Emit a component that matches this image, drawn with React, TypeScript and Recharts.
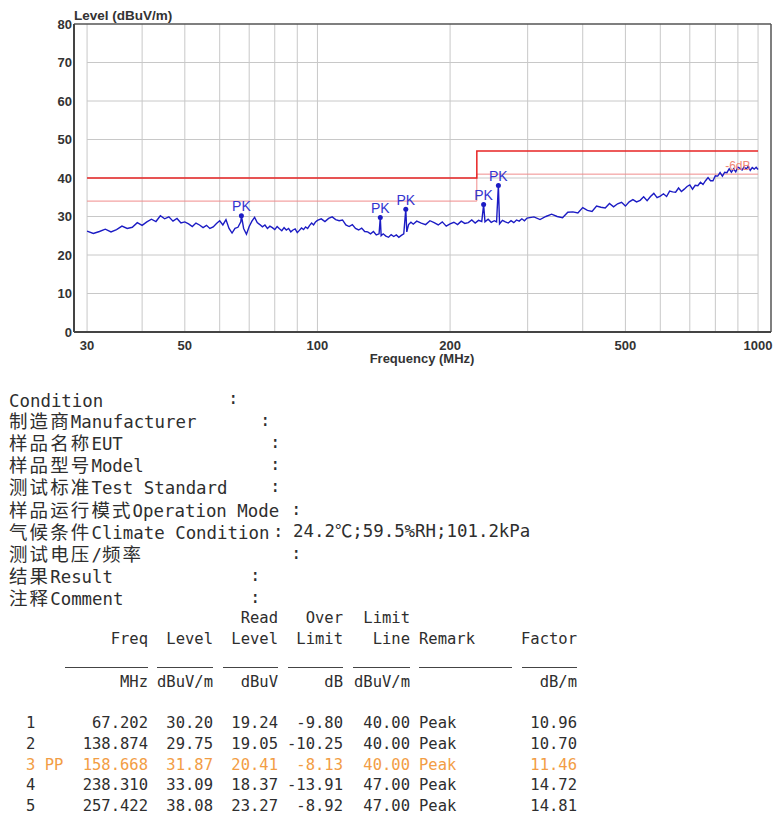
import { ComposedChart, Line, XAxis, YAxis, ReferenceLine, ReferenceDot } from "recharts";

// log axis edges: frame runs a little past 30 and 1000 MHz
const X_MIN = 28.02;
const X_MAX = 1070;

const GRID_FREQS = [30, 40, 50, 60, 70, 80, 90, 100, 200, 300, 400, 500, 600, 700, 800, 900, 1000];
const LABEL_FREQS = [30, 50, 100, 200, 500, 1000];
const LEVEL_TICKS = [0, 10, 20, 30, 40, 50, 60, 70, 80];
const H_GRID = [10, 20, 30, 40, 50, 60, 70];

const TRACE_FREQ = [
  30, 31, 32, 33, 34, 35, 36, 37, 38, 39, 40, 41, 42, 43, 44, 45, 46, 47, 48, 49,
  50, 51, 52, 53, 54, 55, 56, 57, 58, 59, 60, 61, 62, 63, 64, 65, 66, 67, 67.202, 68,
  69, 70, 71, 72, 73, 74, 75, 76, 77, 78, 79, 80, 81, 82, 83, 84, 85, 86, 87, 88,
  89, 90, 91, 92, 93, 94, 95, 96, 97, 98, 99, 100,
  102, 104, 106, 108, 110, 112, 114, 116, 118, 120, 122, 124, 126, 128, 130, 132, 134, 136, 138, 138.874,
  139.5, 141, 143, 145, 147, 149, 151, 153, 155, 157, 158.668, 159.5, 161, 163, 165, 168, 172, 176, 180, 184,
  188, 192, 196, 200, 204, 208, 212, 216, 220, 224, 228, 232, 236, 238.31, 240, 244, 248, 252, 255, 257.422,
  259, 263, 267, 271, 275, 279, 283, 287, 291, 295, 299,
  310, 320, 330, 340, 350, 360, 370, 380, 390, 400, 410, 420, 430, 440, 450, 460, 470, 480, 490, 500,
  510, 520, 530, 540, 550, 560, 570, 580, 590, 600, 610, 620, 630, 640, 650, 660, 670, 680, 690, 700,
  710, 720, 730, 740, 750, 760, 770, 780, 790, 800, 810, 820, 830, 840, 850, 860, 870, 880, 890, 900,
  910, 920, 930, 940, 950, 960, 970, 980, 990, 1000,
];

const TRACE_LEVEL = [
  26.2, 25.6, 26.1, 26.7, 26.0, 26.6, 27.5, 26.9, 27.2, 28.4, 27.7, 28.6, 29.3, 28.7, 30.2, 29.4, 29.9, 28.8, 29.5, 28.3,
  28.6, 28.1, 27.4, 28.3, 27.8, 27.1, 27.7, 26.9, 27.3, 28.2, 28.9, 27.8, 29.2, 26.9, 25.7, 26.9, 27.2, 28.6, 30.2, 26.9,
  25.4, 27.4, 28.8, 29.8, 28.4, 27.9, 27.3, 27.8, 26.9, 27.5, 27.1, 26.6, 27.4, 26.8, 26.3, 27.1, 26.5, 26.9, 26.0, 26.5,
  26.8, 25.8, 26.4, 27.0, 26.6, 27.3, 26.9, 27.7, 28.3, 27.8, 28.6, 29.0,
  29.4, 28.7, 29.5, 29.9, 29.2, 28.9, 29.1, 27.8, 27.4, 27.9, 26.9, 26.5, 27.0, 26.1, 26.0, 25.5, 26.1, 25.2, 25.5, 29.75,
  25.0, 25.5, 24.9, 24.6, 25.3, 24.8, 25.2, 24.6, 25.1, 25.5, 31.87, 26.0, 27.9, 28.5, 28.0, 28.8, 28.3, 27.9, 28.9, 28.4,
  27.8, 28.6, 27.5, 28.1, 28.5, 27.9, 28.8, 28.2, 28.4, 29.1, 28.3, 29.0, 28.7, 33.09, 28.6, 29.3, 28.5, 28.9, 28.6, 38.08,
  28.1, 29.0, 28.6, 28.3, 28.9, 28.4, 29.1, 28.8, 29.4, 28.9, 29.6,
  29.9, 29.2, 30.0, 30.6, 30.0, 29.7, 31.1, 31.2, 30.9, 32.3, 31.6, 31.3, 32.7, 32.4, 32.2, 33.4, 32.5, 33.3, 33.7, 32.7,
  33.8, 34.4, 33.8, 34.2, 35.1, 34.1, 35.2, 36.0, 34.9, 35.3, 35.9, 35.2, 36.6, 36.4, 36.3, 37.4, 36.5, 37.1, 37.8, 38.2,
  37.1, 38.1, 38.0, 38.9, 38.3, 39.3, 40.1, 39.3, 39.3, 40.6, 40.5, 41.4, 40.5, 41.5, 41.4, 42.4, 41.5, 42.4, 41.6, 42.8,
  42.5, 42.1, 42.9, 42.3, 43.1, 42.0, 42.7, 42.3, 42.8, 42.2,
];

const LIMIT_FREQ = [30, 230, 230, 1000];
const LIMIT_LEVEL = [40, 40, 47, 47];
const MARGIN_LEVEL = [34, 34, 41, 41];

const PEAK_FREQ = [67.202, 138.874, 158.668, 238.31, 257.422];
const PEAK_LEVEL = [30.2, 29.75, 31.87, 33.09, 38.08];

const INFO_CJK = ["", "制造商", "样品名称", "样品型号", "测试标准", "样品运行模式", "气候条件", "测试电压", "结果", "注释"];
const INFO_EN = ["Condition", "Manufacturer", "EUT", "Model", "Test Standard", "Operation Mode", "Climate Condition", "", "Result", "Comment"];
const INFO_VALUE = ["", "", "", "", "", "", "24.2℃;59.5%RH;101.2kPa", "", "", ""];
const COLON_X = [233, 265, 275, 275, 275, 296, 278, 296, 255, 255];

const ROW_NO = ["1", "2", "3 PP", "4", "5"];
const COL_FREQ = ["67.202", "138.874", "158.668", "238.310", "257.422"];
const COL_LEVEL = ["30.20", "29.75", "31.87", "33.09", "38.08"];
const COL_READ = ["19.24", "19.05", "20.41", "18.37", "23.27"];
const COL_OVER = ["-9.80", "-10.25", "-8.13", "-13.91", "-8.92"];
const COL_LIMIT = ["40.00", "40.00", "40.00", "47.00", "47.00"];
const COL_REMARK = ["Peak", "Peak", "Peak", "Peak", "Peak"];
const COL_FACTOR = ["10.96", "10.70", "11.46", "14.72", "14.81"];
const HIGHLIGHT_ROW = 2;

const SANS = "'Liberation Sans', Arial, sans-serif";
const MONO = "'DejaVu Sans Mono', 'Noto Sans CJK SC', monospace";
const CJK = "'Noto Sans CJK SC', sans-serif";
const TEXT = "#2e2e2e";
const ORANGE = "#f29d45";
const GRID = "#c8c8c8";

const trace = TRACE_FREQ.map((f, i) => ({ freq: f, level: TRACE_LEVEL[i] }));
const limit = LIMIT_FREQ.map((f, i) => ({ freq: f, level: LIMIT_LEVEL[i] }));
const margin = LIMIT_FREQ.map((f, i) => ({ freq: f, level: MARGIN_LEVEL[i] }));

const cjkStyle: any = {
  fontFamily: CJK,
  fontSize: 18.5,
  letterSpacing: 2.1,
  display: "inline-block",
  height: 18,
  lineHeight: "18px",
};

function FreqTick(props: any) {
  const { x, y, payload } = props;
  if (!LABEL_FREQS.includes(payload.value)) return <g />;
  return (
    <text x={x} y={y + 18} textAnchor="middle" fill="#333" fontSize={13} fontWeight="bold" fontFamily={SANS}>
      {payload.value}
    </text>
  );
}

function Cell({ right, left, top, text, color }: { right?: number; left?: number; top: number; text: string; color: string }) {
  const style: any = {
    position: "absolute",
    top: top - 9,
    height: 18,
    lineHeight: "18px",
    whiteSpace: "pre",
    color,
  };
  if (right !== undefined) style.right = 777 - right;
  if (left !== undefined) style.left = left;
  return <div style={style}>{text}</div>;
}

const COL_RIGHT = [148, 213, 278, 343, 410];
const UNDERLINES = [[65, 148], [157, 213], [223, 278], [288, 343], [353, 410], [419, 512], [522, 577]];
const ROW_Y = [723, 744, 765, 785, 806];

export default function App() {
  return (
    <div style={{ position: "absolute", left: 0, top: 0, width: 777, height: 819, background: "#fff", overflow: "hidden" }}>
      <div style={{ position: "absolute", left: 0, top: 0 }}>
        <ComposedChart width={777} height={370} margin={{ top: 24, right: 6, bottom: 8, left: 0 }}>
          <XAxis
            type="number"
            scale="log"
            dataKey="freq"
            domain={[X_MIN, X_MAX]}
            allowDataOverflow
            ticks={GRID_FREQS}
            interval={0}
            tick={FreqTick}
            tickLine={false}
            tickSize={0}
            tickMargin={0}
            height={30}
            axisLine={{ stroke: "#444", strokeWidth: 2 }}
          />
          <YAxis
            type="number"
            domain={[0, 80]}
            ticks={LEVEL_TICKS}
            interval={0}
            width={74}
            tickLine={false}
            tickSize={0}
            tickMargin={2}
            axisLine={{ stroke: "#444", strokeWidth: 2 }}
            tick={{ fill: "#333", fontSize: 13, fontWeight: "bold", fontFamily: SANS }}
          />
          {GRID_FREQS.map((f) => (
            <ReferenceLine key={"v" + f} x={f} stroke={GRID} strokeWidth={1} />
          ))}
          {H_GRID.map((v) => (
            <ReferenceLine key={"h" + v} segment={[{ x: 30, y: v }, { x: 1000, y: v }]} stroke={GRID} strokeWidth={1} />
          ))}
          <ReferenceLine y={80} stroke="#555" strokeWidth={1.5} ifOverflow="visible" />
          <ReferenceLine x={X_MAX} stroke="#555" strokeWidth={1.5} ifOverflow="visible" />
          <Line data={margin} dataKey="level" type="linear" stroke="#f08c8c" strokeWidth={1} dot={false} isAnimationActive={false} />
          <Line data={limit} dataKey="level" type="linear" stroke="#e82424" strokeWidth={1.5} dot={false} isAnimationActive={false} />
          <Line data={trace} dataKey="level" type="linear" stroke="#1c1cc4" strokeWidth={1.4} dot={false} isAnimationActive={false} />
          {PEAK_FREQ.map((f, i) => (
            <ReferenceDot
              key={"pk" + i}
              x={f}
              y={PEAK_LEVEL[i]}
              r={2.5}
              fill="#1c1cc4"
              stroke="none"
              label={{ value: "PK", position: "top", offset: 2, fill: "#3434d0", fontSize: 14, fontFamily: SANS }}
            />
          ))}
          <ReferenceDot
            x={900}
            y={41}
            r={0}
            fill="none"
            stroke="none"
            label={{ value: "-6dB", position: "top", offset: 4, fill: "#f08878", fontSize: 12, fontFamily: SANS }}
          />
        </ComposedChart>
      </div>

      <div style={{ position: "absolute", left: 74, top: 9, lineHeight: "14px", fontFamily: SANS, fontSize: 13.5, fontWeight: "bold", color: "#333" }}>
        Level (dBuV/m)
      </div>
      <div style={{ position: "absolute", left: 322, width: 200, top: 353, textAlign: "center", lineHeight: "12px", fontFamily: SANS, fontSize: 13, fontWeight: "bold", color: "#333" }}>
        Frequency (MHz)
      </div>

      <div style={{ position: "absolute", left: 0, top: 0, width: 777, height: 819, fontFamily: MONO, fontSize: 17.4, color: TEXT }}>
        {INFO_EN.map((en, i) => {
          const top = 398 + 22.1 * i;
          return (
            <div key={"info" + i}>
              <div style={{ position: "absolute", left: 9, top: top - 9, height: 18, lineHeight: "18px", whiteSpace: "pre" }}>
                {INFO_CJK[i] === "测试电压" ? (
                  <>
                    <span style={cjkStyle}>测试电压</span>
                    <span>/</span>
                    <span style={cjkStyle}>频率</span>
                  </>
                ) : (
                  <span style={cjkStyle}>{INFO_CJK[i]}</span>
                )}
                <span>{en}</span>
              </div>
              <Cell left={COLON_X[i] - 5} top={top} text=":" color={TEXT} />
              {INFO_VALUE[i] && <Cell left={293} top={top} text={INFO_VALUE[i]} color={TEXT} />}
            </div>
          );
        })}
      </div>

      <div style={{ position: "absolute", left: 0, top: 0, width: 777, height: 819, fontFamily: MONO, fontSize: 15.5, color: TEXT }}>
        <Cell right={278} top={618} text="Read" color={TEXT} />
        <Cell right={343} top={618} text="Over" color={TEXT} />
        <Cell right={410} top={618} text="Limit" color={TEXT} />

        <Cell right={148} top={639} text="Freq" color={TEXT} />
        <Cell right={213} top={639} text="Level" color={TEXT} />
        <Cell right={278} top={639} text="Level" color={TEXT} />
        <Cell right={343} top={639} text="Limit" color={TEXT} />
        <Cell right={410} top={639} text="Line" color={TEXT} />
        <Cell left={419} top={639} text="Remark" color={TEXT} />
        <Cell right={577} top={639} text="Factor" color={TEXT} />

        {UNDERLINES.map(([a, b], i) => (
          <div key={"ul" + i} style={{ position: "absolute", left: a, width: b - a, top: 667, height: 1.3, background: "#444" }} />
        ))}

        <Cell right={148} top={682} text="MHz" color={TEXT} />
        <Cell right={213} top={682} text="dBuV/m" color={TEXT} />
        <Cell right={278} top={682} text="dBuV" color={TEXT} />
        <Cell right={343} top={682} text="dB" color={TEXT} />
        <Cell right={410} top={682} text="dBuV/m" color={TEXT} />
        <Cell right={577} top={682} text="dB/m" color={TEXT} />

        {ROW_NO.map((no, i) => {
          const c = i === HIGHLIGHT_ROW ? ORANGE : TEXT;
          const y = ROW_Y[i];
          return (
            <div key={"row" + i}>
              <Cell left={26} top={y} text={no} color={c} />
              <Cell right={COL_RIGHT[0]} top={y} text={COL_FREQ[i]} color={c} />
              <Cell right={COL_RIGHT[1]} top={y} text={COL_LEVEL[i]} color={c} />
              <Cell right={COL_RIGHT[2]} top={y} text={COL_READ[i]} color={c} />
              <Cell right={COL_RIGHT[3]} top={y} text={COL_OVER[i]} color={c} />
              <Cell right={COL_RIGHT[4]} top={y} text={COL_LIMIT[i]} color={c} />
              <Cell left={419} top={y} text={COL_REMARK[i]} color={c} />
              <Cell right={577} top={y} text={COL_FACTOR[i]} color={c} />
            </div>
          );
        })}
      </div>
    </div>
  );
}
